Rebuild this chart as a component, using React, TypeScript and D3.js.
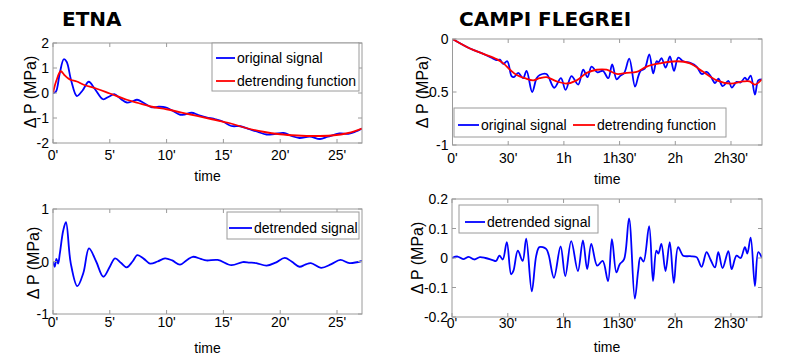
import React from 'react';
import * as d3 from 'd3';

// ---------- tick definitions ----------
const etnaXTicks = [0, 5, 10, 15, 20, 25];
const etnaXTickLabels = ["0'", "5'", "10'", "15'", "20'", "25'"];
const etnaTopYTicks = [-2, -1, 0, 1, 2];
const etnaBottomYTicks = [-1, 0, 1];
const campiXTicks = [0, 30, 60, 90, 120, 150];
const campiXTickLabels = ["0'", "30'", "1h", "1h30'", "2h", "2h30'"];
const campiTopYTicks = [-1, -0.5, 0];
const campiBottomYTicks = [-0.2, -0.1, 0, 0.1, 0.2];

// ---------- ETNA (minutes, MPa) ----------
const etnaOrigTime = [0, 0.25, 0.6, 0.95, 1.2, 1.6, 2.1, 2.6, 3.15, 3.7, 4.4, 4.9, 5.4, 6.0, 6.5, 7.0, 7.4, 8.0, 8.7, 9.3, 9.9, 10.5, 11.2, 11.6, 12.2, 12.8, 13.5, 14.3, 15.0, 15.7, 16.5, 17.3, 18.0, 18.8, 19.5, 20.3, 21.0, 21.7, 22.6, 23.5, 24.2, 25.2, 26.0, 26.6, 27.2];
const etnaOriginal = [0, 0.05, 0.8, 1.35, 1.25, 0.5, -0.12, 0.1, 0.45, 0.15, -0.25, -0.15, -0.05, -0.25, -0.38, -0.33, -0.27, -0.4, -0.57, -0.55, -0.57, -0.7, -0.87, -0.86, -0.79, -0.88, -0.97, -1.05, -1.15, -1.32, -1.33, -1.45, -1.55, -1.66, -1.64, -1.6, -1.72, -1.8, -1.74, -1.84, -1.75, -1.62, -1.63, -1.55, -1.42];

const etnaTrendTime = [0, 0.3, 0.68, 1.0, 1.35, 1.6, 2.1, 2.7, 3.85, 5.0, 6.5, 7.5, 8.7, 10.0, 12.0, 14.0, 15.5, 17.0, 18.5, 20.0, 21.5, 23.0, 24.5, 26.0, 27.2];
const etnaTrend = [0, 0.5, 0.87, 0.72, 0.58, 0.52, 0.46, 0.33, 0.17, -0.02, -0.27, -0.4, -0.55, -0.65, -0.85, -1.05, -1.2, -1.4, -1.55, -1.65, -1.7, -1.72, -1.7, -1.6, -1.42];

const etnaDetrTime = [0, 0.15, 0.3, 0.45, 0.6, 0.9, 1.14, 1.56, 2.14, 2.67, 3.17, 3.8, 4.43, 5.0, 5.46, 6.0, 6.49, 7.0, 7.42, 8.0, 8.54, 9.2, 9.86, 10.5, 11.18, 11.8, 12.3, 13.0, 13.5, 14.5, 15.7, 16.7, 17.3, 17.9, 18.8, 19.6, 20.4, 21.0, 21.7, 22.2, 22.7, 23.6, 24.5, 25.3, 26.1, 27.2];
const etnaDetrended = [0, -0.1, 0.05, -0.04, 0.15, 0.59, 0.75, -0.03, -0.47, -0.22, 0.25, 0.0, -0.29, -0.1, 0.06, -0.03, -0.11, 0.0, 0.12, 0.05, -0.04, 0.0, 0.06, 0.02, -0.06, 0.03, 0.09, 0.05, 0.02, 0.03, -0.07, -0.01, -0.02, -0.03, -0.08, -0.02, 0.07, 0.0, -0.1, -0.06, -0.03, -0.12, -0.05, 0.03, -0.03, 0.01];

// ---------- CAMPI FLEGREI (minutes, MPa) ----------
const campiTrendTime = [0, 9.4, 16.6, 23.8, 27.4, 31, 34.6, 39, 43.5, 47, 50.7, 56.1, 61.5, 66.9, 72.3, 77.7, 83, 88.4, 93.8, 99.2, 104.6, 111.7, 120.7, 127.9, 135, 142.3, 149.4, 156.6, 160, 162.9, 166.7];
const campiTrend = [0, -0.09, -0.14, -0.19, -0.23, -0.29, -0.34, -0.37, -0.39, -0.37, -0.36, -0.40, -0.42, -0.39, -0.32, -0.29, -0.29, -0.33, -0.32, -0.31, -0.26, -0.23, -0.21, -0.23, -0.31, -0.39, -0.42, -0.40, -0.40, -0.43, -0.38];

const campiOrigTime = [0, 9.4, 16.6, 21.9, 23.7, 25.5, 27.3, 29.5, 31.8, 33, 35.4, 38, 39.9, 42.9, 45.3, 47, 50.6, 54.8, 58.4, 60.9, 64.1, 67.7, 70.4, 72.7, 74.9, 78.1, 81, 83.9, 86, 88.4, 90.2, 92.5, 95.2, 98.3, 100.1, 101.3, 103.5, 106, 108.1, 109.9, 111, 112.6, 114.8, 117.1, 119.3, 121.6, 124.3, 128, 131.5, 134.2, 136.9, 139, 141.4, 143.2, 145.5, 148.6, 150.4, 153, 155.2, 157.5, 158.8, 160.6, 162.9, 164.7, 166.7];
const campiOriginal = [0, -0.09, -0.14, -0.185, -0.2, -0.195, -0.235, -0.21, -0.35, -0.36, -0.32, -0.37, -0.30, -0.50, -0.37, -0.34, -0.33, -0.46, -0.37, -0.48, -0.35, -0.43, -0.29, -0.36, -0.26, -0.315, -0.30, -0.37, -0.24, -0.38, -0.35, -0.32, -0.185, -0.45, -0.35, -0.30, -0.28, -0.145, -0.325, -0.21, -0.22, -0.18, -0.27, -0.165, -0.30, -0.175, -0.21, -0.225, -0.26, -0.33, -0.31, -0.35, -0.415, -0.375, -0.445, -0.395, -0.458, -0.405, -0.41, -0.365, -0.39, -0.345, -0.525, -0.39, -0.38];

const campiDetrTime = [0, 3, 6, 9, 12, 15, 18, 21.9, 23.7, 25.5, 27.3, 29.5, 31.8, 33, 35.4, 38, 39.9, 42.9, 45.3, 47, 50.6, 52, 54.8, 58.4, 60.9, 64.1, 67.7, 70.4, 72.7, 74.9, 78.1, 81, 83.9, 86, 88.4, 90.2, 92.5, 95.2, 98.3, 100.1, 101.3, 103, 106, 108.1, 109.9, 111, 112.6, 114.8, 117.1, 119.3, 121.6, 124.3, 128, 131.5, 134.2, 136.9, 139, 141.4, 143.2, 145.5, 148.6, 150.4, 153, 155.2, 157.5, 158.8, 160.6, 162.9, 164.7, 166.7];
const campiDetrended = [0, 0.005, -0.004, 0.004, -0.005, 0.003, 0, -0.007, -0.01, 0.008, -0.005, 0.054, -0.055, -0.044, 0.025, -0.01, 0.066, -0.113, 0.008, 0.037, 0.031, 0.01, -0.067, 0.039, -0.061, 0.057, -0.044, 0.06, -0.038, 0.048, -0.026, -0.01, -0.078, 0.064, -0.049, -0.021, -0.005, 0.134, -0.138, -0.044, 0.002, -0.012, 0.108, -0.078, 0.025, 0.015, 0.048, -0.044, 0.054, -0.084, 0.037, 0.008, 0.006, 0.003, -0.03, 0.02, -0.005, -0.032, 0.02, -0.034, 0.023, -0.038, 0.008, 0.0, 0.037, 0.015, 0.069, -0.095, 0.02, 0.0];

const BLUE = '#0000ff';
const RED = '#ff0000';
const BOX = '#9a9a9a';
const FONT = '"Liberation Sans", Arial, Helvetica, sans-serif';

type Series = { t: number[]; v: number[]; color: string };
type LegendItem = { label: string; color: string; lx0: number; lx1: number; tx: number; ty: number };
type Legend = { x: number; y: number; w: number; h: number; items: LegendItem[] };

type PanelProps = {
  id: string;
  x0: number; x1: number; y0: number; y1: number;
  xDomain: [number, number]; yDomain: [number, number];
  xTicks: number[]; xLabels: string[]; yTicks: number[];
  series: Series[];
  legend: Legend;
  xLabelBaseline: number; timeBaseline: number;
  yLabelX: number; yLabelY: number;
};

function Panel(p: PanelProps) {
  const xs = d3.scaleLinear().domain(p.xDomain).range([p.x0, p.x1]);
  const ys = d3.scaleLinear().domain(p.yDomain).range([p.y1, p.y0]);
  const line = d3
    .line<[number, number]>()
    .x((d) => xs(d[0]))
    .y((d) => ys(d[1]))
    .curve(d3.curveCatmullRom.alpha(0.5));
  const tl = 4;
  return (
    <g>
      <defs>
        <clipPath id={p.id}>
          <rect x={p.x0} y={p.y0} width={p.x1 - p.x0} height={p.y1 - p.y0} />
        </clipPath>
      </defs>
      <rect x={p.x0} y={p.y0} width={p.x1 - p.x0} height={p.y1 - p.y0} fill="#fff" />
      <g clipPath={`url(#${p.id})`}>
        {p.series.map((s, i) => (
          <path
            key={i}
            d={line(d3.zip(s.t, s.v) as [number, number][]) || ''}
            fill="none"
            stroke={s.color}
            strokeWidth={1.8}
            strokeLinejoin="round"
          />
        ))}
      </g>
      {/* ticks */}
      {p.xTicks.map((t, i) => (
        <g key={'xt' + i}>
          <line x1={xs(t)} x2={xs(t)} y1={p.y1} y2={p.y1 - tl} stroke={BOX} />
          <line x1={xs(t)} x2={xs(t)} y1={p.y0} y2={p.y0 + tl} stroke={BOX} />
          <text x={xs(t)} y={p.xLabelBaseline} textAnchor="middle" fontSize={14} fontFamily={FONT} fill="#000">
            {p.xLabels[i]}
          </text>
        </g>
      ))}
      {p.yTicks.map((v, i) => (
        <g key={'yt' + i}>
          <line x1={p.x0} x2={p.x0 + tl} y1={ys(v)} y2={ys(v)} stroke={BOX} />
          <line x1={p.x1} x2={p.x1 - tl} y1={ys(v)} y2={ys(v)} stroke={BOX} />
          <text x={p.x0 - 4} y={ys(v)} textAnchor="end" dominantBaseline="central" fontSize={14} fontFamily={FONT} fill="#000">
            {String(v)}
          </text>
        </g>
      ))}
      <rect x={p.x0} y={p.y0} width={p.x1 - p.x0} height={p.y1 - p.y0} fill="none" stroke={BOX} strokeWidth={1} />
      {/* legend */}
      <rect x={p.legend.x} y={p.legend.y} width={p.legend.w} height={p.legend.h} fill="#fff" stroke={BOX} strokeWidth={1} />
      {p.legend.items.map((it, i) => (
        <g key={'lg' + i}>
          <line x1={it.lx0} x2={it.lx1} y1={it.ty} y2={it.ty} stroke={it.color} strokeWidth={1.8} />
          <text x={it.tx} y={it.ty} dominantBaseline="central" fontSize={14} fontFamily={FONT} fill="#000">
            {it.label}
          </text>
        </g>
      ))}
      <text x={(p.x0 + p.x1) / 2} y={p.timeBaseline} textAnchor="middle" fontSize={14} fontFamily={FONT} fill="#000">
        time
      </text>
      <text
        transform={`translate(${p.yLabelX},${p.yLabelY}) rotate(-90)`}
        textAnchor="middle"
        dominantBaseline="central"
        fontSize={16}
        fontFamily={FONT}
        fill="#000"
      >
        Δ P (MPa)
      </text>
    </g>
  );
}

export default function App() {
  return (
    <svg
      width={800}
      height={360}
      style={{ position: 'absolute', left: 0, top: 0, background: '#fff' }}
      xmlns="http://www.w3.org/2000/svg"
    >
      <rect x={0} y={0} width={800} height={360} fill="#fff" />
      <text x={62} y={26} fontSize={20} fontWeight="bold" fontFamily='"DejaVu Sans", sans-serif' fill="#000">
        ETNA
      </text>
      <text x={459} y={26} fontSize={20} fontWeight="bold" fontFamily='"DejaVu Sans", sans-serif' fill="#000">
        CAMPI FLEGREI
      </text>

      <Panel
        id="c1"
        x0={53} x1={362} y0={43} y1={143}
        xDomain={[0, 27.2]} yDomain={[-2, 2]}
        xTicks={etnaXTicks} xLabels={etnaXTickLabels} yTicks={etnaTopYTicks}
        series={[
          { t: etnaOrigTime, v: etnaOriginal, color: BLUE },
          { t: etnaTrendTime, v: etnaTrend, color: RED },
        ]}
        legend={{
          x: 212, y: 43, w: 147, h: 48,
          items: [
            { label: 'original signal', color: BLUE, lx0: 216, lx1: 235, tx: 237, ty: 58 },
            { label: 'detrending function', color: RED, lx0: 216, lx1: 235, tx: 237, ty: 81 },
          ],
        }}
        xLabelBaseline={160} timeBaseline={181}
        yLabelX={30} yLabelY={92}
      />

      <Panel
        id="c2"
        x0={452.5} x1={762} y0={39} y1={145}
        xDomain={[0, 166.7]} yDomain={[-1, 0]}
        xTicks={campiXTicks} xLabels={campiXTickLabels} yTicks={campiTopYTicks}
        series={[
          { t: campiOrigTime, v: campiOriginal, color: BLUE },
          { t: campiTrendTime, v: campiTrend, color: RED },
        ]}
        legend={{
          x: 454, y: 108, w: 272, h: 29,
          items: [
            { label: 'original signal', color: BLUE, lx0: 458, lx1: 479, tx: 481, ty: 125 },
            { label: 'detrending function', color: RED, lx0: 573, lx1: 595, tx: 597, ty: 125 },
          ],
        }}
        xLabelBaseline={163} timeBaseline={184}
        yLabelX={422} yLabelY={92}
      />

      <Panel
        id="c3"
        x0={53} x1={362} y0={209} y1={314}
        xDomain={[0, 27.2]} yDomain={[-1, 1]}
        xTicks={etnaXTicks} xLabels={etnaXTickLabels} yTicks={etnaBottomYTicks}
        series={[{ t: etnaDetrTime, v: etnaDetrended, color: BLUE }]}
        legend={{
          x: 227, y: 212, w: 132, h: 27,
          items: [{ label: 'detrended signal', color: BLUE, lx0: 229, lx1: 252, tx: 254, ty: 228 }],
        }}
        xLabelBaseline={327} timeBaseline={353}
        yLabelX={33} yLabelY={263}
      />

      <Panel
        id="c4"
        x0={452} x1={762} y0={199} y1={317}
        xDomain={[0, 166.7]} yDomain={[-0.2, 0.2]}
        xTicks={campiXTicks} xLabels={campiXTickLabels} yTicks={campiBottomYTicks}
        series={[{ t: campiDetrTime, v: campiDetrended, color: BLUE }]}
        legend={{
          x: 459, y: 205, w: 139, h: 28,
          items: [{ label: 'detrended signal', color: BLUE, lx0: 465, lx1: 485, tx: 487, ty: 222 }],
        }}
        xLabelBaseline={328} timeBaseline={352}
        yLabelX={417} yLabelY={258}
      />
    </svg>
  );
}
